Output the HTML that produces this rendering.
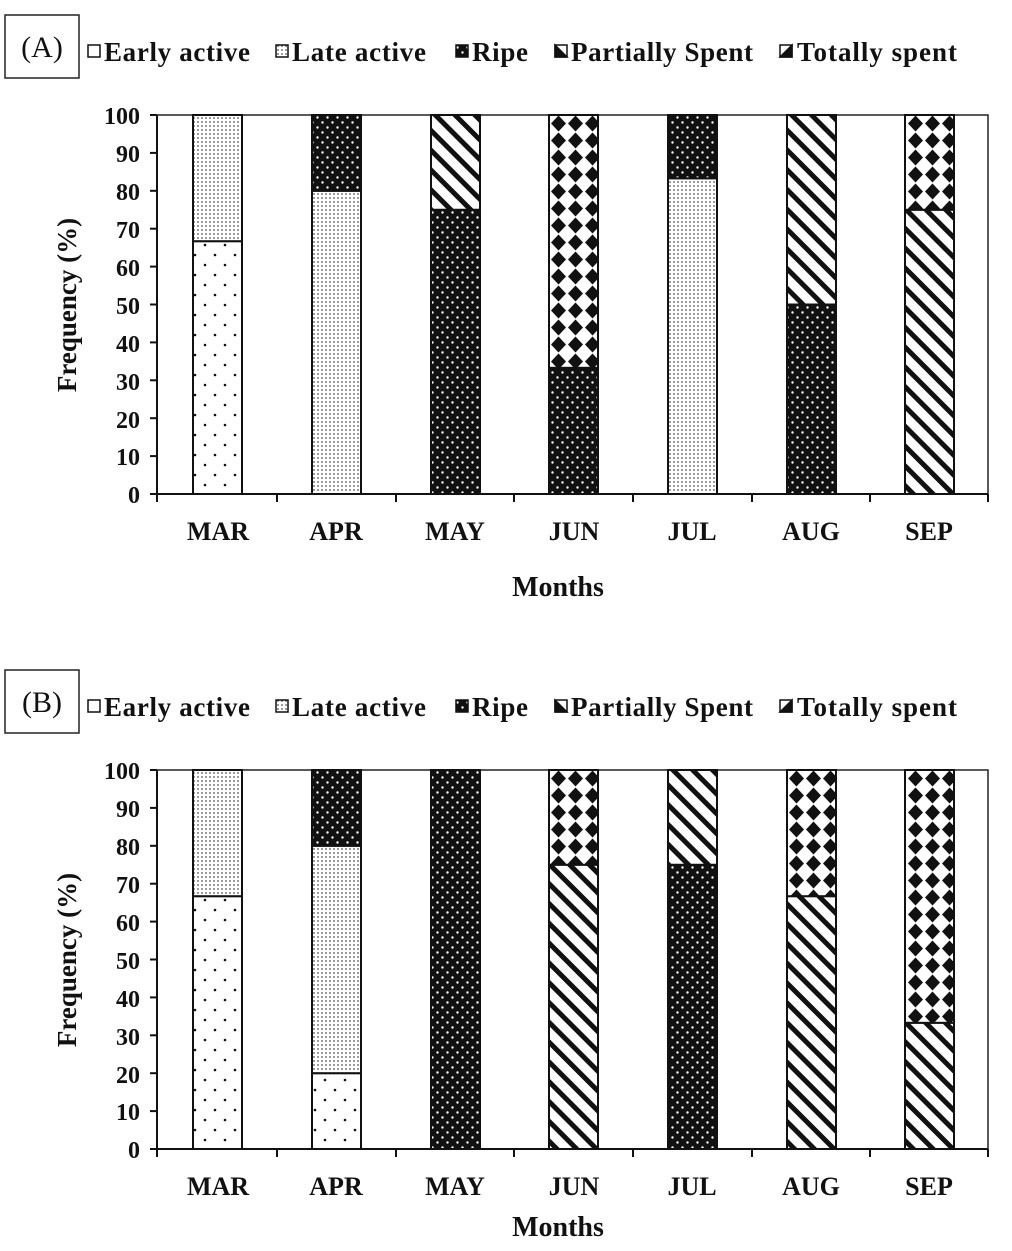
<!DOCTYPE html>
<html><head><meta charset="utf-8"><style>
html,body{margin:0;padding:0;background:#fff;}
svg{display:block;}
text{font-family:"Liberation Serif",serif;font-weight:bold;fill:#111;}
</style></head><body>
<svg width="1012" height="1251" viewBox="0 0 1012 1251" xmlns="http://www.w3.org/2000/svg">
<defs>
<pattern id="early" patternUnits="userSpaceOnUse" width="20" height="20">
<rect width="20" height="20" fill="#fff"/><circle cx="5" cy="5" r="1.3" fill="#111"/><circle cx="15" cy="15" r="1.3" fill="#111"/>
</pattern>
<pattern id="late" patternUnits="userSpaceOnUse" width="4" height="4">
<rect width="4" height="4" fill="#fff"/><circle cx="2" cy="2" r="0.9" fill="#555"/>
</pattern>
<pattern id="ripe" patternUnits="userSpaceOnUse" width="10" height="10">
<rect width="10" height="10" fill="#111"/><circle cx="2.5" cy="2.5" r="1.2" fill="#fff"/><circle cx="7.5" cy="7.5" r="1.2" fill="#fff"/>
</pattern>
<pattern id="part" patternUnits="userSpaceOnUse" width="14" height="14" patternTransform="rotate(-45)">
<rect width="14" height="14" fill="#fff"/><rect x="0" y="0" width="5" height="14" fill="#111"/>
</pattern>
<pattern id="tot" patternUnits="userSpaceOnUse" width="17" height="17" x="193" y="115">
<rect width="17" height="17" fill="#fff"/>
<polygon points="8.5,0.5 16,8.5 8.5,16.5 1,8.5" fill="#111"/>
</pattern>
<g id="legend">
<rect x="5" y="15" width="74" height="63" fill="#fff" stroke="#222" stroke-width="1.5"/>
<g stroke="#111" stroke-width="1.5">
<rect x="88" y="45" width="12" height="12" fill="#fff"/>
<rect x="276" y="45" width="12" height="12" fill="url(#late)"/>
<rect x="456" y="45" width="12" height="12" fill="url(#ripe)"/>
<rect x="555" y="45" width="12" height="12" fill="#fff"/>
<polygon points="555,45 567,57 555,57" fill="#111"/>
<rect x="780" y="45" width="12" height="12" fill="#fff"/>
<polygon points="792,45 792,57 780,57" fill="#111"/>
</g>
<g font-size="27">
<text x="104" y="61" textLength="146">Early active</text>
<text x="292" y="61" textLength="134">Late active</text>
<text x="472" y="61" textLength="56">Ripe</text>
<text x="571" y="61" textLength="182">Partially Spent</text>
<text x="797" y="61" textLength="160">Totally spent</text>
</g>
</g>
<g id="axes">
<rect x="157" y="115" width="831" height="379" fill="none" stroke="#222" stroke-width="1.5"/>
<g stroke="#111" stroke-width="2">
<line x1="157" y1="115" x2="157" y2="494"/>
<line x1="150" y1="494" x2="988" y2="494"/>
<line x1="150" y1="115" x2="157" y2="115"/><line x1="150" y1="152.9" x2="157" y2="152.9"/>
<line x1="150" y1="190.8" x2="157" y2="190.8"/><line x1="150" y1="228.7" x2="157" y2="228.7"/>
<line x1="150" y1="266.6" x2="157" y2="266.6"/><line x1="150" y1="304.5" x2="157" y2="304.5"/>
<line x1="150" y1="342.4" x2="157" y2="342.4"/><line x1="150" y1="380.3" x2="157" y2="380.3"/>
<line x1="150" y1="418.2" x2="157" y2="418.2"/><line x1="150" y1="456.1" x2="157" y2="456.1"/>
<line x1="157" y1="494" x2="157" y2="502"/><line x1="277" y1="494" x2="277" y2="502"/>
<line x1="396" y1="494" x2="396" y2="502"/><line x1="514" y1="494" x2="514" y2="502"/>
<line x1="633" y1="494" x2="633" y2="502"/><line x1="752" y1="494" x2="752" y2="502"/>
<line x1="870" y1="494" x2="870" y2="502"/><line x1="988" y1="494" x2="988" y2="502"/>
</g>
<g font-size="24" text-anchor="end">
<text x="140" y="124">100</text><text x="140" y="162">90</text><text x="140" y="200">80</text>
<text x="140" y="238">70</text><text x="140" y="276">60</text><text x="140" y="314">50</text>
<text x="140" y="352">40</text><text x="140" y="390">30</text><text x="140" y="428">20</text>
<text x="140" y="465">10</text><text x="140" y="503">0</text>
</g>
<g font-size="26" text-anchor="middle">
<text x="218" y="540">MAR</text><text x="336" y="540">APR</text><text x="455" y="540">MAY</text>
<text x="574" y="540">JUN</text><text x="692" y="540">JUL</text><text x="811" y="540">AUG</text>
<text x="929" y="540">SEP</text>
</g>
<text x="76" y="305" font-size="27" text-anchor="middle" transform="rotate(-90 76 305)">Frequency (%)</text>
</g>
</defs>

<!-- Chart A -->
<use href="#legend"/>
<text x="42" y="57" font-size="30" text-anchor="middle" style="font-weight:normal">(A)</text>
<use href="#axes"/>
<text x="558" y="596" font-size="28" text-anchor="middle">Months</text>
<g stroke="#111" stroke-width="2">
<rect x="193" y="241.2" width="49" height="252.8" fill="url(#early)"/>
<rect x="193" y="115" width="49" height="126.2" fill="url(#late)"/>
<rect x="312" y="190.8" width="49" height="303.2" fill="url(#late)"/>
<rect x="312" y="115" width="49" height="75.8" fill="url(#ripe)"/>
<rect x="431" y="209.75" width="49" height="284.25" fill="url(#ripe)"/>
<rect x="431" y="115" width="49" height="94.75" fill="url(#part)"/>
<rect x="549" y="367.8" width="49" height="126.2" fill="url(#ripe)"/>
<rect x="549" y="115" width="49" height="252.8" fill="url(#tot)"/>
<rect x="668" y="178.3" width="49" height="315.7" fill="url(#late)"/>
<rect x="668" y="115" width="49" height="63.3" fill="url(#ripe)"/>
<rect x="787" y="304.5" width="49" height="189.5" fill="url(#ripe)"/>
<rect x="787" y="115" width="49" height="189.5" fill="url(#part)"/>
<rect x="905" y="209.75" width="49" height="284.25" fill="url(#part)"/>
<rect x="905" y="115" width="49" height="94.75" fill="url(#tot)"/>
</g>

<!-- Chart B -->
<g transform="translate(0,655)">
<use href="#legend"/>
<text x="42" y="57" font-size="30" text-anchor="middle" style="font-weight:normal">(B)</text>
<use href="#axes"/>
<text x="558" y="581" font-size="28" text-anchor="middle">Months</text>
<g stroke="#111" stroke-width="2">
<rect x="193" y="241.2" width="49" height="252.8" fill="url(#early)"/>
<rect x="193" y="115" width="49" height="126.2" fill="url(#late)"/>
<rect x="312" y="418.2" width="49" height="75.8" fill="url(#early)"/>
<rect x="312" y="190.8" width="49" height="227.4" fill="url(#late)"/>
<rect x="312" y="115" width="49" height="75.8" fill="url(#ripe)"/>
<rect x="431" y="115" width="49" height="379" fill="url(#ripe)"/>
<rect x="549" y="209.75" width="49" height="284.25" fill="url(#part)"/>
<rect x="549" y="115" width="49" height="94.75" fill="url(#tot)"/>
<rect x="668" y="209.75" width="49" height="284.25" fill="url(#ripe)"/>
<rect x="668" y="115" width="49" height="94.75" fill="url(#part)"/>
<rect x="787" y="241.2" width="49" height="252.8" fill="url(#part)"/>
<rect x="787" y="115" width="49" height="126.2" fill="url(#tot)"/>
<rect x="905" y="367.8" width="49" height="126.2" fill="url(#part)"/>
<rect x="905" y="115" width="49" height="252.8" fill="url(#tot)"/>
</g>
</g>
</svg>
</body></html>
